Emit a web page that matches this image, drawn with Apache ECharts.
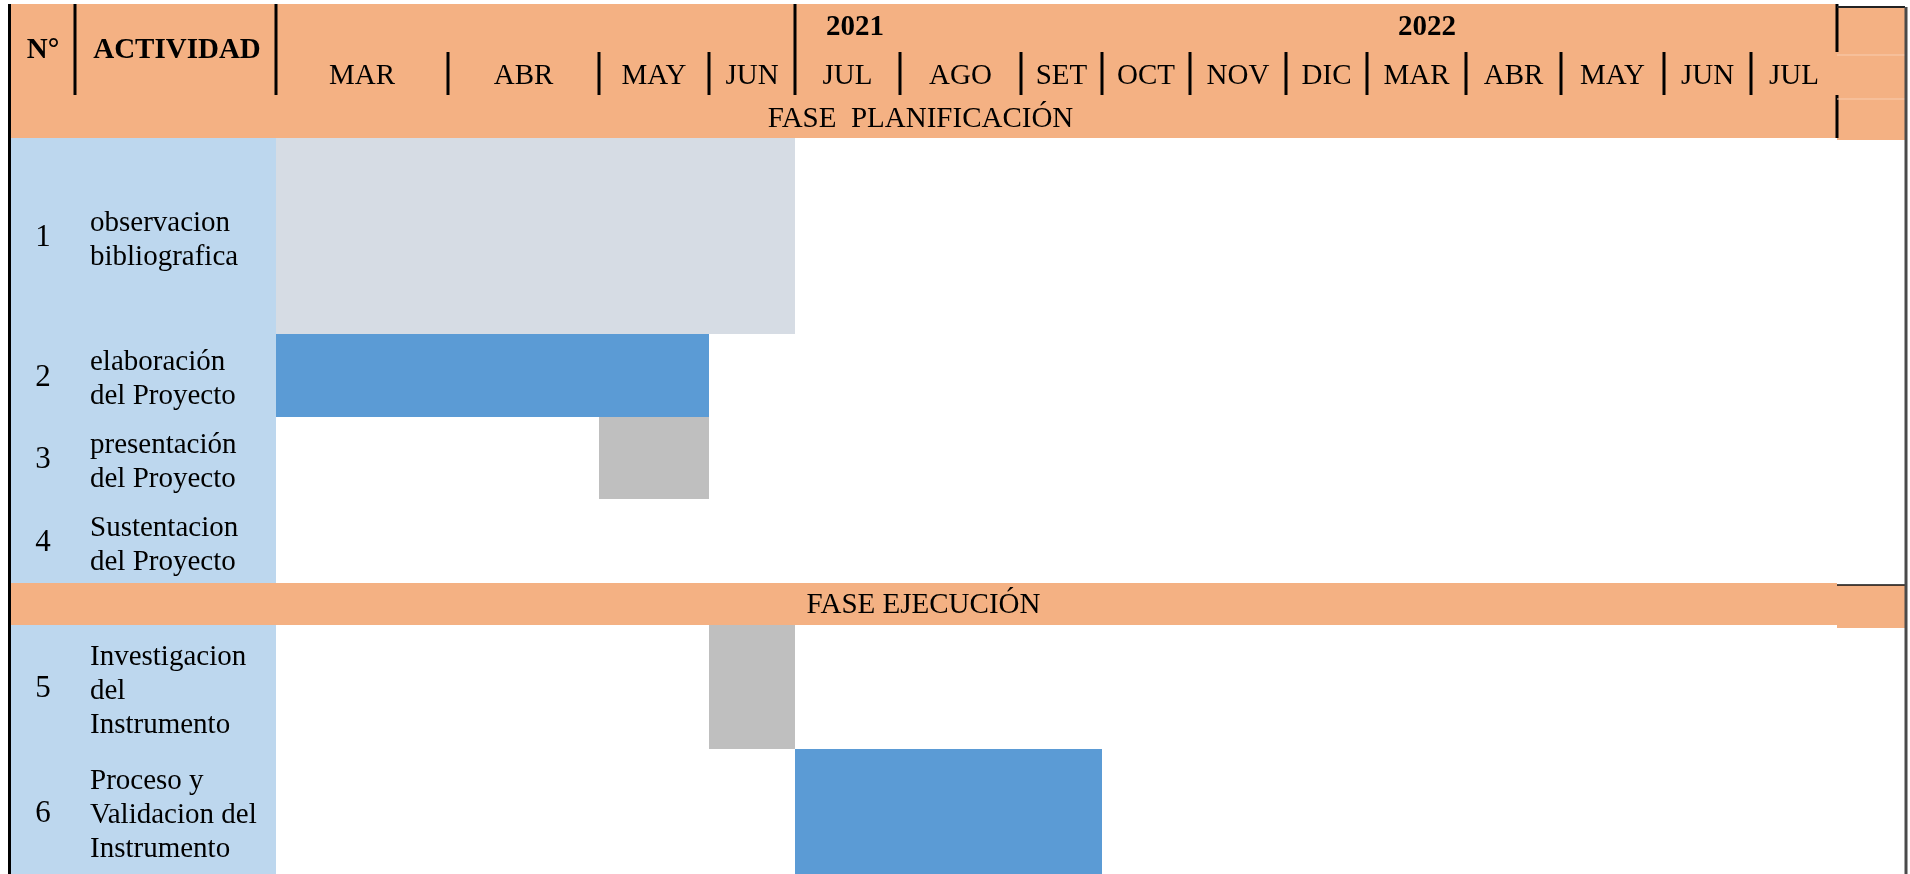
<!DOCTYPE html>
<html><head><meta charset="utf-8">
<script src="https://cdn.jsdelivr.net/npm/echarts@6/dist/echarts.min.js"></script>
<style>html,body{margin:0;padding:0;background:#fff;overflow:hidden}#c{width:1910px;height:874px}</style>
</head><body><div id="c"></div>
<script>
// ---------------- data ----------------
const months = ['MAR','ABR','MAY','JUN','JUL','AGO','SET','OCT','NOV','DIC','MAR','ABR','MAY','JUN','JUL'];
const yearLabels = ['2021','2022'];
const yearMonthIndex = [4, 10];
const numbers = ['1','2','3','4','5','6'];
const activities = [
  'observacion\nbibliografica',
  'elaboración\ndel Proyecto',
  'presentación\ndel Proyecto',
  'Sustentacion\ndel Proyecto',
  'Investigacion\ndel\nInstrumento',
  'Proceso y\nValidacion del\nInstrumento'
];
const phaseLabels = ['FASE  PLANIFICACIÓN','FASE EJECUCIÓN'];
const headerLabels = ['N°','ACTIVIDAD'];
// task month spans (index into months, end exclusive)
const taskStart = [0, 0, 2, null, 3, 4];
const taskEnd   = [4, 3, 3, null, 4, 7];
const taskKind  = ['light', 'blue', 'gray', null, 'gray', 'blue'];

// ---------------- layout / style ----------------
const W = 1910, H = 874;
const COL_EDGES = [276,448,599,709,795,900,1021,1102,1190,1286,1367,1466,1561,1664,1751,1837];
const ROW_SPANS = [[138,334],[334,417],[417,499],[499,583],[625,749],[749,874]];
const BAND2 = [583,625];
const HEADER = [4,138];
const LEFT = 11, NUM_SEP = 75, TABLE_RIGHT = 1837, EXTRA_RIGHT = 1905;
const COLORS = {orange:'#F4B183', side:'#BDD7EE', light:'#D6DCE4', blue:'#5B9BD5', gray:'#BFBFBF'};
const FONT = '"Liberation Serif", "Times New Roman", serif';
const FS = 29;

function rect(api, x0, y0, x1, y1, fill) {
  const a = api.coord([x0, y0]), b = api.coord([x1, y1]);
  return {type:'rect', shape:{x:a[0], y:a[1], width:b[0]-a[0], height:b[1]-a[1]}, style:{fill:fill}};
}
function line(api, x0, y0, x1, y1, stroke, w) {
  const a = api.coord([x0, y0]), b = api.coord([x1, y1]);
  return {type:'line', shape:{x1:a[0], y1:a[1], x2:b[0], y2:b[1]}, style:{stroke:stroke, lineWidth:w}};
}
function text(api, x, y, str, opt) {
  const a = api.coord([x, y]);
  return {type:'text', x:a[0], y:a[1], style:Object.assign({
    text:str, fill:'#000', fontSize:FS, fontFamily:FONT, align:'center', verticalAlign:'middle'
  }, opt || {})};
}

const chart = echarts.init(document.getElementById('c'));

const option = {
  animation:false,
  grid:{left:0, right:0, top:0, bottom:0},
  xAxis:{type:'value', min:0, max:W, show:false},
  yAxis:{type:'value', min:0, max:H, inverse:true, show:false},
  series:[
    // background table cells
    {
      type:'custom', z:1, silent:true, data:[0],
      renderItem:function(params, api){
        const ch = [];
        ch.push(rect(api, LEFT, HEADER[0], TABLE_RIGHT, HEADER[1], COLORS.orange));
        ch.push(rect(api, TABLE_RIGHT, 7, EXTRA_RIGHT, 140, COLORS.orange));
        ch.push(rect(api, LEFT, BAND2[0], TABLE_RIGHT, BAND2[1], COLORS.orange));
        ch.push(rect(api, TABLE_RIGHT, BAND2[0]+2, EXTRA_RIGHT, BAND2[1]+3, COLORS.orange));
        ch.push(rect(api, LEFT, ROW_SPANS[0][0], COL_EDGES[0], ROW_SPANS[3][1], COLORS.side));
        ch.push(rect(api, LEFT, ROW_SPANS[4][0], COL_EDGES[0], ROW_SPANS[5][1], COLORS.side));
        return {type:'group', children:ch};
      }
    },
    // task bars
    {
      type:'custom', z:2, silent:true,
      data: taskStart.map(function(s, i){ return [i, s, taskEnd[i]]; }).filter(function(d){ return d[1] !== null; }),
      renderItem:function(params, api){
        const row = api.value(0), s = api.value(1), e = api.value(2);
        const span = ROW_SPANS[row];
        return rect(api, COL_EDGES[s], span[0], COL_EDGES[e], span[1], COLORS[taskKind[row]]);
      }
    },
    // month labels
    {
      type:'custom', z:3, silent:true,
      data: months.map(function(m, i){ return i; }),
      renderItem:function(params, api){
        const i = api.value(0);
        return text(api, (COL_EDGES[i] + COL_EDGES[i+1]) / 2, 76, months[i]);
      }
    },
    // row labels
    {
      type:'custom', z:3, silent:true,
      data: activities.map(function(a, i){ return i; }),
      renderItem:function(params, api){
        const i = api.value(0);
        const span = ROW_SPANS[i];
        const cy = (span[0] + span[1]) / 2;
        return {type:'group', children:[
          text(api, 43, cy + 2, numbers[i], {fontSize:31}),
          text(api, 90, cy + 4, activities[i], {align:'left', lineHeight:34})
        ]};
      }
    },
    // header texts and rules
    {
      type:'custom', z:4, silent:true, data:[0],
      renderItem:function(params, api){
        const ch = [];
        ch.push(text(api, 43, 51, headerLabels[0], {fontWeight:'bold'}));
        ch.push(text(api, 177, 51, headerLabels[1], {fontWeight:'bold'}));
        yearLabels.forEach(function(y, k){
          ch.push(text(api, COL_EDGES[yearMonthIndex[k]] + 60, 28, y, {fontWeight:'bold'}));
        });
        ch.push(text(api, TABLE_RIGHT / 2 + 2, 119, phaseLabels[0]));
        ch.push(text(api, TABLE_RIGHT / 2 + 5, 605, phaseLabels[1]));
        // rules
        ch.push(line(api, 9.5, HEADER[0], 9.5, H, '#000', 3));
        ch.push(line(api, NUM_SEP, HEADER[0], NUM_SEP, 95, '#000', 3));
        ch.push(line(api, COL_EDGES[0], HEADER[0], COL_EDGES[0], 95, '#000', 3));
        for (let k = 1; k < COL_EDGES.length - 1; k++) {
          ch.push(line(api, COL_EDGES[k], k === 4 ? HEADER[0] : 52, COL_EDGES[k], 95, '#000', 3));
        }
        ch.push(line(api, TABLE_RIGHT, HEADER[0], TABLE_RIGHT, 52, '#000', 3));
        ch.push(line(api, TABLE_RIGHT, 95, TABLE_RIGHT, HEADER[1], '#000', 3));
        ch.push(line(api, TABLE_RIGHT, 7, EXTRA_RIGHT, 7, '#222', 2));
        ch.push(line(api, TABLE_RIGHT, 55, EXTRA_RIGHT, 55, '#F9CDB0', 1));
        ch.push(line(api, TABLE_RIGHT, 99, EXTRA_RIGHT, 99, '#F9CDB0', 1));
        ch.push(line(api, TABLE_RIGHT, BAND2[0]+2, EXTRA_RIGHT, BAND2[0]+2, '#111', 1.5));
        ch.push(line(api, EXTRA_RIGHT + 1, 7, EXTRA_RIGHT + 1, H, '#4A4A4A', 3));
        return {type:'group', children:ch};
      }
    }
  ]
};
chart.setOption(option);
</script>
</body></html>
